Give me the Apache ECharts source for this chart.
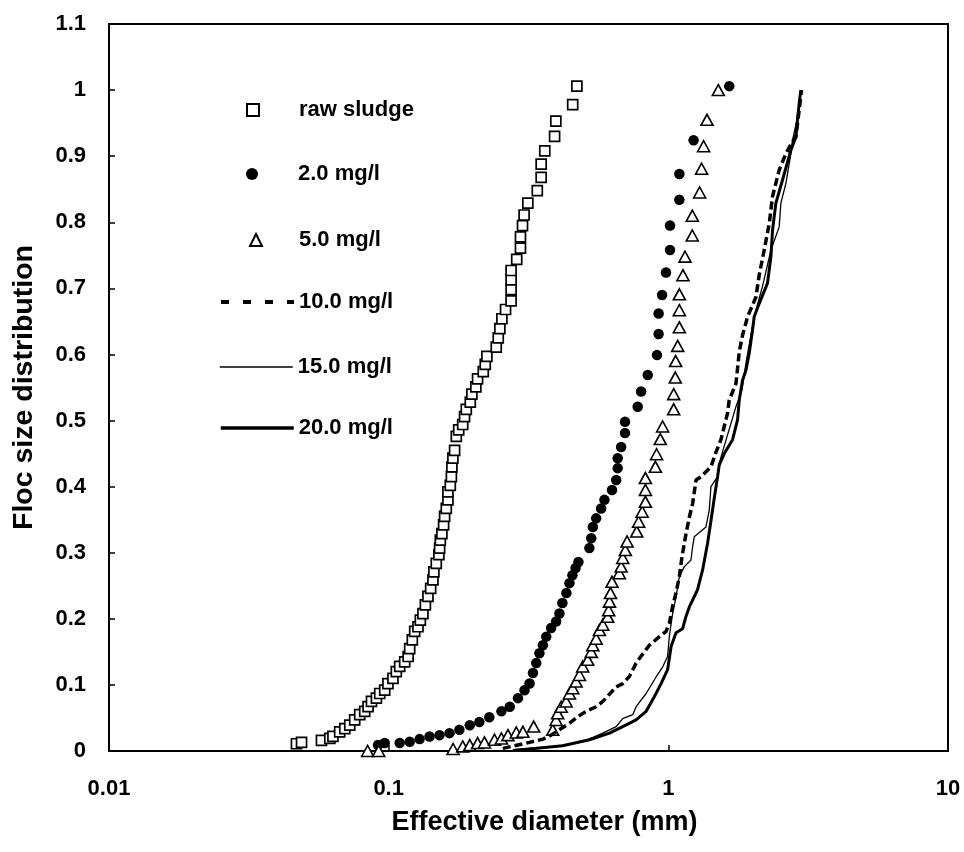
<!DOCTYPE html>
<html>
<head>
<meta charset="utf-8">
<script src="https://cdn.jsdelivr.net/npm/echarts@6/dist/echarts.min.js"></script>
<style>
html,body{margin:0;padding:0;background:#fff;}
#chart{width:964px;height:852px;}
</style>
</head>
<body>
<div id="chart"></div>
<script>
// x: effective diameter (mm), y: cumulative floc size distribution
const seriesNames = ['raw sludge', '2.0 mg/l', '5.0 mg/l', '10.0 mg/l', '15.0 mg/l', '20.0 mg/l'];
const yTicks = [0, 0.1, 0.2, 0.3, 0.4, 0.5, 0.6, 0.7, 0.8, 0.9, 1, 1.1];
const xTicks = [0.01, 0.1, 1, 10];

const rawSludge = [
  [0.0468,0.011],[0.0488,0.013],[0.0575,0.016],[0.0616,0.019],[0.0632,0.022],[0.0668,0.029],
  [0.0697,0.034],[0.0726,0.039],[0.0756,0.047],[0.0788,0.055],[0.0821,0.060],[0.0844,0.067],
  [0.0868,0.075],[0.0904,0.080],[0.0929,0.087],[0.0968,0.092],[0.0994,0.102],[0.1036,0.110],
  [0.1065,0.120],[0.1095,0.128],[0.1141,0.135],[0.1174,0.143],[0.1189,0.155],[0.1215,0.168],
  [0.1239,0.181],[0.1273,0.188],[0.1298,0.198],[0.1326,0.208],[0.1353,0.221],[0.1382,0.234],
  [0.1413,0.246],[0.1440,0.259],[0.1451,0.271],[0.1480,0.284],[0.1512,0.297],[0.1521,0.307],
  [0.1530,0.319],[0.1550,0.329],[0.1572,0.342],[0.1585,0.355],[0.1607,0.367],[0.1629,0.380],
  [0.1629,0.392],[0.1661,0.402],[0.1676,0.415],[0.1683,0.430],[0.1697,0.443],[0.1721,0.455],
  [0.1745,0.476],[0.178,0.486],[0.184,0.494],[0.1868,0.506],[0.1895,0.517],[0.1958,0.528],
  [0.1984,0.540],[0.2050,0.551],[0.2079,0.563],[0.2179,0.574],[0.2215,0.585],[0.2245,0.597],
  [0.2425,0.611],[0.2465,0.625],[0.2498,0.639],[0.2540,0.654],[0.2618,0.668],[0.274,0.681],
  [0.274,0.698],[0.274,0.713],[0.274,0.727],[0.287,0.744],[0.296,0.761],[0.296,0.778],
  [0.301,0.795],[0.305,0.811],[0.3145,0.829],[0.340,0.848],[0.351,0.868],[0.351,0.888],
  [0.3616,0.908],[0.392,0.930],[0.396,0.953],[0.455,0.978],[0.471,1.006]
];

const mg2 = [
  [0.0916,0.009],[0.0968,0.012],[0.1095,0.012],[0.1189,0.014],[0.129,0.018],[0.140,0.022],
  [0.152,0.024],[0.165,0.027],[0.179,0.032],[0.195,0.039],[0.211,0.044],[0.229,0.051],
  [0.253,0.060],[0.271,0.067],[0.290,0.080],[0.306,0.092],[0.319,0.102],[0.328,0.118],
  [0.337,0.133],[0.346,0.148],[0.356,0.160],[0.366,0.173],[0.381,0.186],[0.397,0.196],
  [0.408,0.208],[0.418,0.224],[0.432,0.239],[0.443,0.254],[0.454,0.266],[0.466,0.277],
  [0.477,0.286],[0.522,0.307],[0.530,0.322],[0.537,0.339],[0.552,0.352],[0.575,0.367],
  [0.591,0.380],[0.629,0.395],[0.651,0.410],[0.659,0.428],[0.659,0.443],[0.678,0.460],
  [0.700,0.481],[0.700,0.498],[0.777,0.521],[0.799,0.544],[0.844,0.569],[0.911,0.599],
  [0.923,0.631],[0.923,0.662],[0.950,0.690],[0.981,0.724],[1.014,0.758],[1.014,0.795],
  [1.095,0.834],[1.095,0.873],[1.231,0.924],[1.651,1.006]
];

const mg5 = [
  [0.0841,0.000],[0.0921,0.000],[0.170,0.003],[0.184,0.007],[0.195,0.009],[0.208,0.012],
  [0.220,0.013],[0.239,0.017],[0.253,0.019],[0.267,0.024],[0.286,0.028],[0.302,0.029],
  [0.330,0.037],[0.386,0.032],[0.397,0.047],[0.402,0.057],[0.414,0.067],[0.431,0.075],
  [0.443,0.087],[0.455,0.095],[0.468,0.105],[0.481,0.115],[0.494,0.128],[0.515,0.138],
  [0.530,0.150],[0.537,0.160],[0.552,0.170],[0.567,0.183],[0.583,0.191],[0.607,0.203],
  [0.612,0.213],[0.616,0.226],[0.621,0.239],[0.629,0.256],[0.668,0.269],[0.678,0.279],
  [0.687,0.292],[0.702,0.304],[0.712,0.317],[0.771,0.332],[0.783,0.347],[0.806,0.362],
  [0.828,0.377],[0.828,0.395],[0.828,0.413],[0.899,0.430],[0.908,0.449],[0.936,0.472],
  [0.954,0.491],[1.045,0.517],[1.045,0.540],[1.059,0.565],[1.062,0.590],[1.080,0.613],
  [1.095,0.641],[1.095,0.667],[1.095,0.691],[1.128,0.720],[1.147,0.748],[1.218,0.780],
  [1.218,0.810],[1.294,0.845],[1.315,0.881],[1.337,0.915],[1.375,0.955],[1.509,1.000]
];

const mg10 = [
  [0.256,0.004],[0.319,0.013],[0.356,0.018],[0.381,0.024],[0.414,0.034],[0.443,0.042],
  [0.474,0.052],[0.508,0.060],[0.552,0.067],[0.583,0.075],[0.651,0.097],[0.687,0.102],
  [0.726,0.113],[0.767,0.133],[0.788,0.140],[0.855,0.160],[0.929,0.173],[0.981,0.181],
  [1.008,0.193],[1.036,0.219],[1.065,0.239],[1.095,0.264],[1.119,0.294],[1.157,0.329],
  [1.189,0.354],[1.221,0.374],[1.256,0.410],[1.308,0.415],[1.420,0.430],[1.480,0.452],
  [1.542,0.471],[1.628,0.511],[1.651,0.531],[1.745,0.556],[1.768,0.579],[1.793,0.604],
  [1.842,0.629],[1.920,0.657],[2.057,0.687],[2.113,0.720],[2.202,0.758],[2.295,0.798],
  [2.358,0.839],[2.491,0.879],[2.633,0.904],[2.779,0.922],[2.858,0.929],[2.937,0.970],
  [2.993,1.000]
];

const mg15 = [
  [0.278,0.002],[0.397,0.007],[0.494,0.014],[0.583,0.027],[0.651,0.037],[0.687,0.049],
  [0.746,0.055],[0.767,0.067],[0.833,0.087],[0.904,0.112],[0.954,0.127],[0.994,0.143],
  [1.008,0.173],[1.036,0.208],[1.065,0.233],[1.095,0.264],[1.141,0.279],[1.205,0.289],
  [1.221,0.309],[1.238,0.324],[1.363,0.339],[1.401,0.365],[1.420,0.400],[1.500,0.415],
  [1.521,0.435],[1.563,0.453],[1.745,0.521],[1.833,0.546],[1.895,0.587],[2.028,0.657],
  [2.171,0.703],[2.327,0.758],[2.491,0.793],[2.526,0.829],[2.633,0.859],[2.743,0.904],
  [2.779,0.924],[2.937,0.970],[2.978,1.000]
];

const mg20 = [
  [0.286,0.001],[0.419,0.008],[0.522,0.017],[0.616,0.027],[0.687,0.037],[0.767,0.047],
  [0.833,0.060],[0.891,0.082],[0.942,0.102],[0.994,0.123],[1.023,0.158],[1.065,0.179],
  [1.125,0.185],[1.157,0.204],[1.189,0.218],[1.272,0.244],[1.326,0.274],[1.381,0.314],
  [1.420,0.348],[1.460,0.383],[1.500,0.415],[1.521,0.433],[1.585,0.450],[1.697,0.471],
  [1.768,0.501],[1.793,0.531],[1.842,0.561],[1.895,0.576],[1.947,0.602],[2.000,0.637],
  [2.028,0.657],[2.113,0.677],[2.263,0.708],[2.327,0.748],[2.358,0.788],[2.424,0.829],
  [2.560,0.864],[2.743,0.909],[2.858,0.929],[2.896,0.955],[2.937,0.980],[2.978,1.000]
];

const FONT = "'Liberation Sans', Arial, sans-serif";
const chart = echarts.init(document.getElementById('chart'), null, {renderer: 'canvas'});

const legendCenters = [110, 174, 240, 302, 367, 428];
const legendText = {color: '#000', fontFamily: FONT, fontWeight: 'bold', fontSize: 22, lineHeight: 22};
function markerLegend(i, cx) {
  return {
    data: [seriesNames[i]],
    left: cx - 6,
    top: legendCenters[i] - 11,
    padding: 0,
    itemWidth: 12,
    itemHeight: 12,
    selectedMode: false,
    textStyle: Object.assign({padding: [0, 0, 0, 298 - (cx - 6) - 17]}, legendText)
  };
}
function lineLegend(i, extraLine) {
  return {
    data: [seriesNames[i]],
    left: 219,
    top: legendCenters[i] - 11,
    padding: 0,
    itemWidth: 73,
    itemHeight: 12,
    selectedMode: false,
    itemStyle: {opacity: 0},
    lineStyle: extraLine || {},
    textStyle: legendText
  };
}

const option = {
  animation: false,
  backgroundColor: '#fff',
  grid: {
    left: 109, right: 16, top: 24, bottom: 101,
    containLabel: false, outerBoundsMode: 'none',
    show: true, borderColor: '#000', borderWidth: 2, backgroundColor: 'transparent'
  },
  legend: [
    markerLegend(0, 252), markerLegend(1, 252), markerLegend(2, 255),
    lineLegend(3, {type: [8, 14], width: 4}),
    lineLegend(4, {width: 1.5}),
    lineLegend(5, {width: 3.5})
  ],
  xAxis: {
    type: 'log', logBase: 10, min: xTicks[0], max: xTicks[xTicks.length - 1],
    name: 'Effective diameter (mm)', nameLocation: 'middle', nameGap: 58,
    nameTextStyle: {color: '#000', fontFamily: FONT, fontWeight: 'bold', fontSize: 27, padding: [0, 0, 0, 32]},
    axisLine: {show: true, onZero: false, lineStyle: {color: '#000', width: 2}},
    axisTick: {show: true, inside: true, length: 6, lineStyle: {color: '#000', width: 1.5}},
    minorTick: {show: false},
    splitLine: {show: false},
    axisLabel: {color: '#000', fontFamily: FONT, fontWeight: 'bold', fontSize: 22, margin: 27,
      formatter: function (v) { return String(+v.toPrecision(3)); }}
  },
  yAxis: {
    type: 'value', min: yTicks[0], max: yTicks[yTicks.length - 1], interval: 0.1,
    name: 'Floc size distribution', nameLocation: 'middle', nameGap: 70,
    nameTextStyle: {color: '#000', fontFamily: FONT, fontWeight: 'bold', fontSize: 28.5},
    axisLine: {show: true, lineStyle: {color: '#000', width: 2}},
    axisTick: {show: true, inside: true, length: 6, lineStyle: {color: '#000', width: 1.5}},
    splitLine: {show: false},
    axisLabel: {color: '#000', fontFamily: FONT, fontWeight: 'bold', fontSize: 22, margin: 23,
      formatter: function (v) { return String(Math.round(v * 10) / 10); }}
  },
  series: [
    {name: seriesNames[0], type: 'scatter', data: rawSludge, symbol: 'rect', symbolSize: 10,
      itemStyle: {color: '#fff', borderColor: '#000', borderWidth: 1.7, opacity: 1}, z: 3},
    {name: seriesNames[1], type: 'scatter', data: mg2, symbol: 'circle', symbolSize: 10.5,
      itemStyle: {color: '#000', borderColor: '#000', borderWidth: 0, opacity: 1}, z: 3},
    {name: seriesNames[2], type: 'scatter', data: mg5, symbol: 'triangle', symbolSize: [12, 11],
      itemStyle: {color: '#fff', borderColor: '#000', borderWidth: 1.6, opacity: 1}, z: 3},
    {name: seriesNames[3], type: 'line', data: mg10, symbol: 'none', showSymbol: false,
      itemStyle: {color: '#000'},
      lineStyle: {color: '#000', width: 3.5, type: [8, 4]}, z: 4},
    {name: seriesNames[4], type: 'line', data: mg15, symbol: 'none', showSymbol: false,
      itemStyle: {color: '#000'},
      lineStyle: {color: '#000', width: 1.3}, z: 4},
    {name: seriesNames[5], type: 'line', data: mg20, symbol: 'none', showSymbol: false,
      itemStyle: {color: '#000'},
      lineStyle: {color: '#000', width: 3}, z: 4}
  ]
};
chart.setOption(option);
</script>
</body>
</html>
